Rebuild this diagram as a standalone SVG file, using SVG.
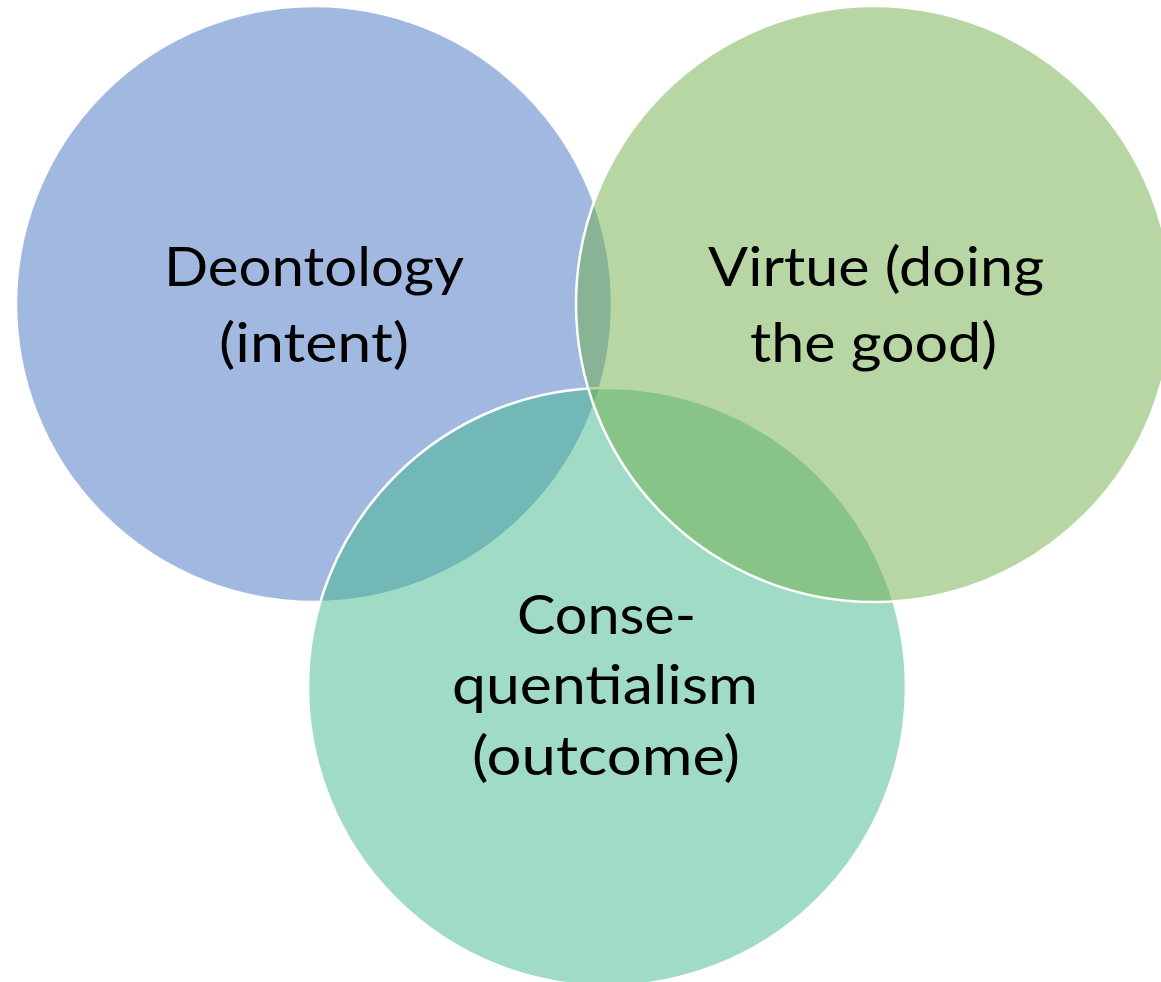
<svg xmlns="http://www.w3.org/2000/svg" width="1161" height="982" viewBox="0 0 1161 982">
  <style>
    .circle { stroke: #FFFFFF; stroke-width: 2.5; fill-opacity: 0.5; }
    .blue { fill: #4472C4; }
    .teal { fill: #41B78D; }
    .green { fill: #70AD47; }
    .label { font-family: Lato, "Open Sans", "Liberation Sans", sans-serif; font-size: 55px; fill: #000000; }
  </style>
  <rect x="0" y="0" width="1161" height="982" fill="#FFFFFF"/>
  <g id="node-deontology">
    <circle class="circle blue" cx="314" cy="304" r="298"/>
  </g>
  <g id="node-consequentialism">
    <circle class="circle teal" cx="607" cy="687" r="299"/>
  </g>
  <g id="node-virtue">
    <circle class="circle green" cx="874" cy="304" r="298"/>
  </g>
  <g id="connectors"></g>
  <g id="labels">
    <text class="label" x="164" y="286" textLength="300" lengthAdjust="spacingAndGlyphs">Deontology</text>
    <text class="label" x="219" y="361.5" textLength="190" lengthAdjust="spacingAndGlyphs">(intent)</text>
    <text class="label" x="708" y="286" textLength="336" lengthAdjust="spacingAndGlyphs">Virtue (doing</text>
    <text class="label" x="750" y="361.5" textLength="247" lengthAdjust="spacingAndGlyphs">the good)</text>
    <text class="label" x="517" y="633.5" textLength="179" lengthAdjust="spacingAndGlyphs">Conse-</text>
    <text class="label" x="452" y="704" textLength="306" lengthAdjust="spacingAndGlyphs">quentialism</text>
    <text class="label" x="472" y="775" textLength="268" lengthAdjust="spacingAndGlyphs">(outcome)</text>
  </g>
</svg>
